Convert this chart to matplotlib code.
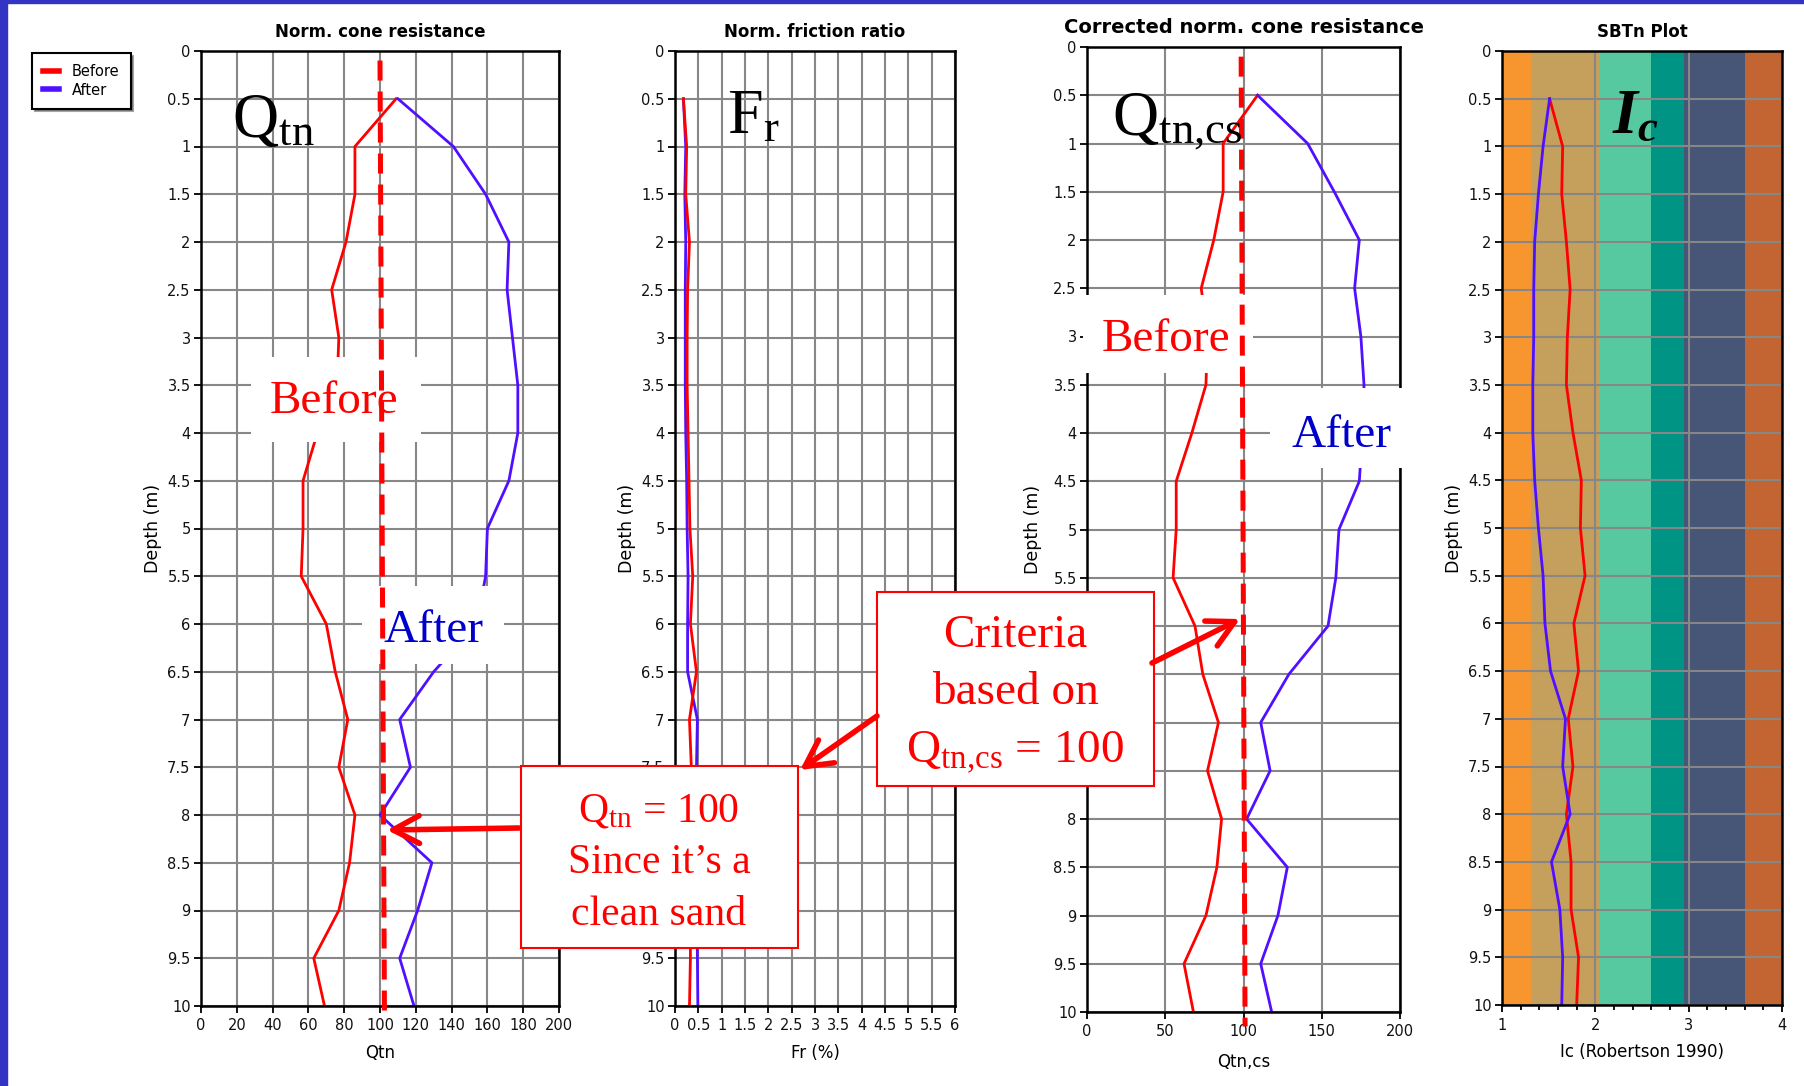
import numpy as np
import matplotlib.pyplot as plt
from matplotlib.patches import Rectangle, FancyArrowPatch
from matplotlib.lines import Line2D
from matplotlib.ticker import FuncFormatter, MultipleLocator

W, H = 1804, 1086

depth = [0.5, 1.0, 1.5, 2.0, 2.5, 3.0, 3.5, 4.0, 4.5, 5.0,
         5.5, 6.0, 6.5, 7.0, 7.5, 8.0, 8.5, 9.0, 9.5, 10.0]

qtn_before = [109, 86, 86, 81, 73, 77, 76, 65, 57, 57, 56, 70, 75, 82, 77, 86, 83, 77, 63, 69]
qtn_after = [110, 141, 159, 172, 171, 174, 177, 177, 172, 160, 159, 154, 130, 111, 117, 100, 129, 121, 111, 119]

fr_before = [0.18, 0.25, 0.23, 0.31, 0.27, 0.26, 0.26, 0.28, 0.30, 0.32,
             0.38, 0.33, 0.46, 0.31, 0.35, 0.34, 0.33, 0.33, 0.33, 0.31]
fr_after = [0.18, 0.23, 0.21, 0.23, 0.22, 0.22, 0.22, 0.23, 0.25, 0.26,
            0.28, 0.27, 0.27, 0.48, 0.46, 0.46, 0.47, 0.47, 0.48, 0.49]

qtncs_before = [109, 87, 87, 81, 73, 77, 76, 67, 57, 57, 55, 69, 74, 84, 77, 86, 83, 76, 62, 68]
qtncs_after = [109, 141, 158, 174, 171, 175, 177, 176, 174, 161, 159, 154, 129, 111, 117, 102, 128, 122, 111, 118]

ic_before = [1.51, 1.65, 1.64, 1.69, 1.73, 1.70, 1.69, 1.76, 1.85, 1.84,
             1.89, 1.77, 1.82, 1.71, 1.76, 1.69, 1.74, 1.74, 1.82, 1.80]
ic_after = [1.51, 1.44, 1.39, 1.35, 1.34, 1.34, 1.33, 1.33, 1.35, 1.39,
            1.44, 1.46, 1.52, 1.68, 1.65, 1.73, 1.53, 1.62, 1.65, 1.64]

# SBTn zone limits on the Ic axis and their fill colours
sbt_bounds = [1.0, 1.31, 2.05, 2.60, 2.95, 3.60, 4.0]
sbt_colors = ['#F7962F', '#C4A05C', '#57C9A1', '#009484', '#475577', '#C26532']

q_limit = 100  # clean sand criterion

# depth labels that sit under the callout boxes in the original slide
hidden_fr = [8.0, 8.5, 9.0]
hidden_qtncs = [6.0, 6.5, 7.0, 7.5]

RED = '#FF0000'
BLUE = '#5010FF'
TXT_BLUE = '#0000CC'

plt.rcParams['font.family'] = ['DejaVu Sans']
plt.rcParams['mathtext.fontset'] = 'custom'
plt.rcParams['mathtext.rm'] = 'Liberation Serif'
plt.rcParams['mathtext.it'] = 'Liberation Serif:italic:bold'


def fbox(x0, y0, x1, y1):
    # pixel box (top-left origin) -> figure fraction rect
    return [x0 / W, 1 - y1 / H, (x1 - x0) / W, (y1 - y0) / H]


def fpt(x, y):
    return x / W, 1 - y / H


def style_panel(ax, xlim, xstep, xlabel, title, ylab_x, title_size=12, hide=()):
    ax.set_xlim(*xlim)
    ax.set_ylim(10, 0)
    ax.xaxis.set_major_locator(MultipleLocator(xstep))
    ax.yaxis.set_major_locator(MultipleLocator(0.5))
    ax.xaxis.set_major_formatter(FuncFormatter(lambda v, p: f'{v:g}'))
    ax.yaxis.set_major_formatter(FuncFormatter(
        lambda v, p: '' if any(abs(v - h) < 1e-6 for h in hide) else f'{v:g}'))
    ax.grid(True, color='#878787', lw=1.5)
    ax.set_axisbelow(True)
    ax.tick_params(direction='out', length=5, width=1.4, labelsize=10.5, pad=2.5, colors='#111111')
    ax.tick_params(axis='x', pad=4)
    for s in ax.spines.values():
        s.set_linewidth(1.8)
    ax.set_title(title, fontsize=title_size, fontweight='bold', pad=10)
    ax.set_xlabel(xlabel, fontsize=12)
    ax.xaxis.set_label_coords(0.5, -0.04)
    ax.set_ylabel('Depth (m)', fontsize=12.5)
    ax.yaxis.set_label_coords(ylab_x, 0.5)


fig = plt.figure(figsize=(W / 100, H / 100), dpi=100)
fig.patch.set_facecolor('white')

# slide frame
fig.add_artist(Rectangle((0, 0), 7 / W, 1, transform=fig.transFigure, color='#3434C4', zorder=10))
fig.add_artist(Rectangle((0, 1 - 3 / H), 1, 3 / H, transform=fig.transFigure, color='#3434C4', zorder=10))

ax1 = fig.add_axes(fbox(201, 51, 559, 1006))
ax2 = fig.add_axes(fbox(675, 51, 955, 1006))
ax3 = fig.add_axes(fbox(1087, 47, 1400, 1012))
ax4 = fig.add_axes(fbox(1502, 51, 1782, 1005))

l_before, = ax1.plot(qtn_before, depth, color=RED, lw=2.0, label='Before')
l_after, = ax1.plot(qtn_after, depth, color=BLUE, lw=2.0, label='After')
style_panel(ax1, (0, 200), 20, 'Qtn', 'Norm. cone resistance', -0.11)

ax2.plot(fr_after, depth, color=BLUE, lw=2.0)
ax2.plot(fr_before, depth, color=RED, lw=2.0)
style_panel(ax2, (0, 6), 0.5, 'Fr (%)', 'Norm. friction ratio', -0.14, hide=hidden_fr)

ax3.plot(qtncs_before, depth, color=RED, lw=2.0)
ax3.plot(qtncs_after, depth, color=BLUE, lw=2.0)
style_panel(ax3, (0, 200), 50, 'Qtn,cs', 'Corrected norm. cone resistance', -0.145,
            title_size=14, hide=hidden_qtncs)
ax3.xaxis.set_label_coords(0.5, -0.043)

for lo, hi, c in zip(sbt_bounds[:-1], sbt_bounds[1:], sbt_colors):
    ax4.axvspan(lo, hi, color=c, lw=0, zorder=0)
ax4.plot(ic_before, depth, color=RED, lw=2.0)
ax4.plot(ic_after, depth, color=BLUE, lw=2.0)
style_panel(ax4, (1, 4), 1, 'Ic (Robertson 1990)', 'SBTn Plot', -0.14)
ax4.xaxis.set_minor_locator(MultipleLocator(0.2))
ax4.tick_params(which='minor', direction='out', length=3.5, width=1.3)

# legend
leg = fig.legend([l_before, l_after], ['Before', 'After'], loc='upper left',
                 bbox_to_anchor=fpt(32, 53), borderaxespad=0, fontsize=10.5,
                 frameon=True, fancybox=False, shadow=True, framealpha=1,
                 edgecolor='black', handlelength=1.1, handletextpad=0.9,
                 labelspacing=0.25, borderpad=0.75)
leg.get_frame().set_linewidth(1.5)
for ln in leg.get_lines():
    ln.set_linewidth(4)

# white masks behind the Before / After labels
for box in [(251, 357, 421, 442), (362, 586, 504, 664), (1083, 295, 1253, 373), (1270, 388, 1402, 468)]:
    x, y, w, h = fbox(*box)
    fig.add_artist(Rectangle((x, y), w, h, transform=fig.transFigure, facecolor='white', edgecolor='none', zorder=1))

# Q = 100 dashed criterion lines (drawn above the masks)
for ax, xs in [(ax1, (q_limit, q_limit + 2.5)), (ax3, (q_limit - 1.5, q_limit + 1))]:
    ln = Line2D(xs, [0.1, 10.15], transform=ax.transData, color=RED, lw=3.6, dashes=(4, 2.2), zorder=3)
    fig.add_artist(ln)

serif = 'Liberation Serif'
for x, y, s, c in [(270, 413, 'Before', RED), (383, 642, 'After', TXT_BLUE),
                   (1102, 351, 'Before', RED), (1291, 447, 'After', TXT_BLUE)]:
    fig.text(*fpt(x, y), s, family=serif, fontsize=34, color=c, va='baseline', ha='left', zorder=4)

# big symbols in the panels
for x, y, s in [(232, 137, r'$\mathrm{Q}_{\mathrm{tn}}$'), (727, 133, r'$\mathrm{F}_{\mathrm{r}}$'),
                (1112, 135, r'$\mathrm{Q}_{\mathrm{tn{,}cs}}$'), (1612, 133, r'$I_{c}$')]:
    fig.text(*fpt(x, y), s, fontsize=46, color='black', va='baseline', ha='left', zorder=4)

# callout boxes
for box in [(521, 766, 798, 948), (877, 592, 1154, 786)]:
    x, y, w, h = fbox(*box)
    fig.add_artist(Rectangle((x, y), w, h, transform=fig.transFigure, facecolor='white',
                             edgecolor=RED, lw=1.5, zorder=5))

for y, s in [(822, r'Q$_{\mathrm{tn}}$ = 100'), (873, 'Since it’s a'), (925, 'clean sand')]:
    fig.text(*fpt(659, y), s, family=serif, fontsize=30, color=RED, ha='center', va='baseline', zorder=6)
for y, s in [(647, 'Criteria'), (704, 'based on'), (762, r'Q$_{\mathrm{tn{,}cs}}$ = 100')]:
    fig.text(*fpt(1015, y), s, family=serif, fontsize=34, color=RED, ha='center', va='baseline', zorder=6)

for a, b in [((519, 828), (387, 830)), ((877, 716), (800, 770)), ((1152, 663), (1240, 619))]:
    arr = FancyArrowPatch(fpt(*a), fpt(*b), transform=fig.transFigure,
                          arrowstyle='->,head_length=0.95,head_width=0.5', mutation_scale=20,
                          color=RED, lw=4, shrinkA=0, shrinkB=0, zorder=6)
    fig.add_artist(arr)

fig.savefig('out.png', dpi=100)
